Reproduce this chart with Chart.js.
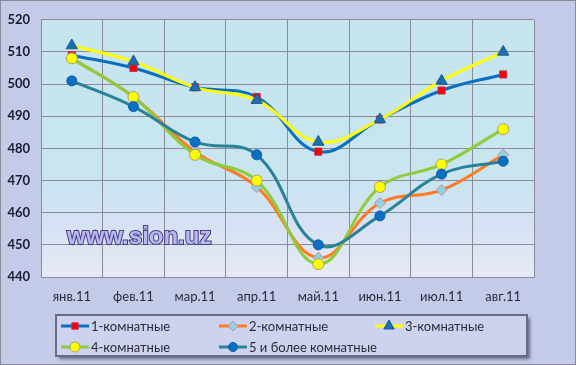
<!DOCTYPE html>
<html>
<head>
<meta charset="utf-8">
<script src="https://cdn.jsdelivr.net/npm/chart.js@4"></script>
<style>
  html, body { margin: 0; padding: 0; background: #fff; }
  #wrap { position: relative; width: 574px; height: 363px; border: 1px solid #8a8a9a; background: #c3cbe9; }
  canvas { display: block; }
</style>
</head>
<body>
<div id="wrap"><canvas id="chart" width="574" height="363"></canvas></div>
<script>
// months (x axis)
const months = ["янв.11", "фев.11", "мар.11", "апр.11", "май.11", "июн.11", "июл.11", "авг.11"];

// series names
const seriesNames = ["1-комнатные", "2-комнатные", "3-комнатные", "4-комнатные", "5 и более комнатные"];

// values
const oneRoom   = [509, 505, 499, 496, 479, 489, 498, 503];
const twoRoom   = [508, 496, 479, 468, 446, 463, 467, 478];
const threeRoom = [512, 507, 499, 495, 482, 489, 501, 510];
const fourRoom  = [508, 496, 478, 470, 444, 468, 475, 486];
const fivePlus  = [501, 493, 482, 478, 450, 459, 472, 476];

const yTicks = [440, 450, 460, 470, 480, 490, 500, 510, 520];

const styles = [
  { line: "#0a6fc0", fill: "#ff0000", border: "#c0304a", shape: "rect", r: 5 },
  { line: "#ff7a22", fill: "#8fd3e3", border: "#c8909a", shape: "rectRot", r: 5.5 },
  { line: "#ffff00", fill: "#1a70b0", border: "#1a5a90", shape: "triangle", r: 6.5 },
  { line: "#8fcc3c", fill: "#ffff00", border: "#b0a060", shape: "circle", r: 5.5 },
  { line: "#2a8298", fill: "#0a6fc0", border: "#0a60a8", shape: "circle", r: 5 }
];

const allData = [oneRoom, twoRoom, threeRoom, fourRoom, fivePlus];

const datasets = allData.map((d, i) => ({
  label: seriesNames[i],
  data: d,
  borderColor: styles[i].line,
  borderWidth: 3,
  backgroundColor: styles[i].fill,
  pointBackgroundColor: styles[i].fill,
  pointBorderColor: styles[i].border,
  pointBorderWidth: 1,
  pointStyle: styles[i].shape,
  pointRadius: styles[i].r,
  tension: 0.4,
  order: 5 - i
}));

// plot background gradient
const plotBg = {
  id: "plotBg",
  beforeDraw(chart) {
    const { ctx, chartArea: a } = chart;
    const g = ctx.createLinearGradient(0, a.top, 0, a.bottom);
    g.addColorStop(0, "#c6e5ef");
    g.addColorStop(0.6, "#c8e5f0");
    g.addColorStop(0.8, "#d6e2f4");
    g.addColorStop(1, "#e6eaf4");
    ctx.save();
    ctx.fillStyle = g;
    ctx.fillRect(a.left, a.top, a.right - a.left, a.bottom - a.top);
    ctx.restore();
  }
};

// watermark + legend box
const extras = {
  id: "extras",
  afterDraw(chart) {
    const ctx = chart.ctx;
    ctx.save();
    // watermark
    ctx.font = "bold 24px 'Liberation Sans', Arial, sans-serif";
    ctx.textBaseline = "middle";
    ctx.textAlign = "left";
    ctx.lineWidth = 2;
    ctx.strokeStyle = "#4a3c8a";
    ctx.strokeText("www.sion.uz", 66, 236);
    ctx.fillStyle = "#b8b8ee";
    ctx.fillText("www.sion.uz", 66, 236);

    // legend box
    ctx.shadowColor = "rgba(40,40,60,0.6)";
    ctx.shadowOffsetX = 3;
    ctx.shadowOffsetY = 3;
    ctx.shadowBlur = 3;
    ctx.fillStyle = "#cdd3ee";
    ctx.fillRect(55, 314, 471, 41);
    ctx.shadowColor = "transparent";
    ctx.strokeStyle = "#6a6a80";
    ctx.lineWidth = 2;
    ctx.strokeRect(55, 314, 471, 41);

    const pos = [[60, 325], [218, 325], [374, 325], [60, 346], [218, 346]];
    ctx.font = "13px Lato, sans-serif";
    ctx.textBaseline = "middle";
    pos.forEach((p, i) => {
      const s = styles[i];
      ctx.strokeStyle = s.line;
      ctx.lineWidth = 3;
      ctx.beginPath();
      ctx.moveTo(p[0], p[1]);
      ctx.lineTo(p[0] + 28, p[1]);
      ctx.stroke();
      ctx.fillStyle = s.fill;
      ctx.strokeStyle = s.border;
      ctx.lineWidth = 1;
      Chart.helpers.drawPoint(ctx, { pointStyle: s.shape, radius: s.r - 0.5, rotation: 0, borderWidth: 1 }, p[0] + 14, p[1]);
      ctx.fillStyle = "#2a2a3a";
      ctx.fillText(seriesNames[i], p[0] + 30, p[1] + 1);
    });
    ctx.restore();
  }
};

new Chart(document.getElementById("chart"), {
  type: "line",
  data: { labels: months, datasets: datasets },
  options: {
    responsive: false,
    animation: false,
    layout: { padding: { top: 16, right: 41, bottom: 59, left: 0 } },
    plugins: { legend: { display: false }, tooltip: { enabled: false } },
    scales: {
      x: {
        offset: true,
        grid: { offset: true, color: "#8c8c96", drawTicks: false },
        border: { color: "#8c8c96" },
        ticks: { color: "#2a2a3a", font: { family: "Lato", size: 13 }, padding: 12 },
        afterFit(scale) { scale.height = 28; }
      },
      y: {
        min: 440,
        max: 520,
        afterBuildTicks(scale) { scale.ticks = yTicks.map(v => ({ value: v })); },
        grid: { color: "#8c8c96", drawTicks: false },
        border: { color: "#8c8c96" },
        ticks: { color: "#1a1a30", font: { family: "Lato", size: 13, weight: "bold" }, padding: 11 },
        afterFit(scale) { scale.width = 40; }
      }
    }
  },
  plugins: [plotBg, extras]
});
</script>
</body>
</html>
